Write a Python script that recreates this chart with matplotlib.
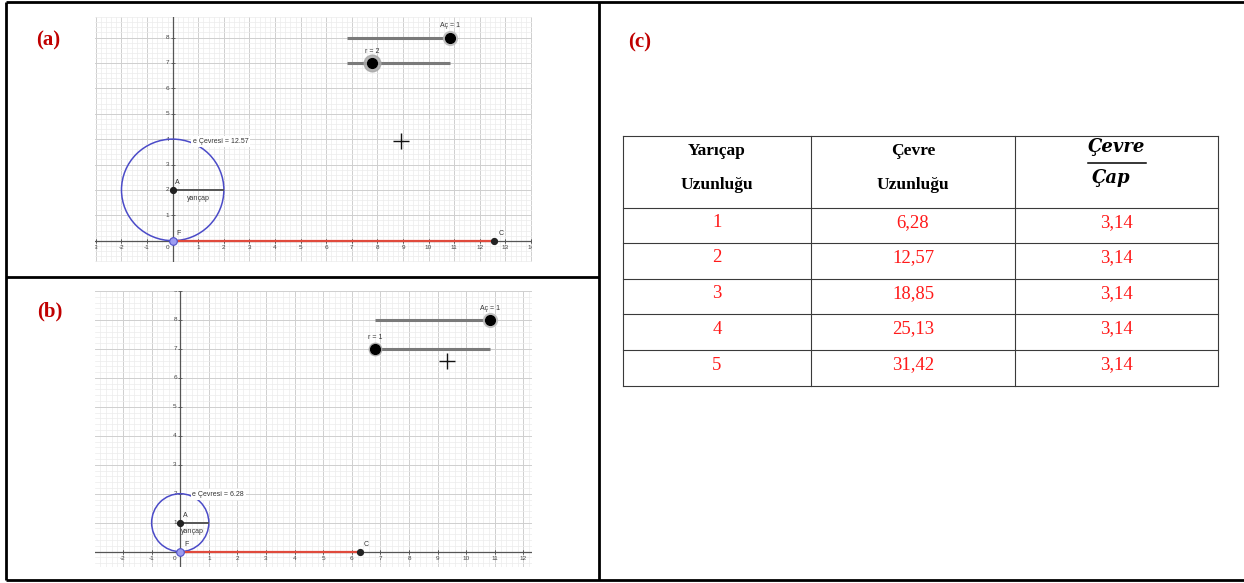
import numpy as np
import matplotlib
matplotlib.use("Agg")
import matplotlib.pyplot as plt
from matplotlib.patches import Circle

# ---------------- data ----------------
radius = [1, 2, 3, 4, 5]
circumference = [6.28, 12.57, 18.85, 25.13, 31.42]
ratio = [3.14, 3.14, 3.14, 3.14, 3.14]
header_col1 = ["Yarıçap", "Uzunluğu"]
header_col2 = ["Çevre", "Uzunluğu"]
header_frac = ["Çevre", "Çap"]

panel_a_r = 2
panel_a_circ = 12.57
panel_b_r = 1
panel_b_circ = 6.28
slider_r_min, slider_r_max = 1, 5
slider_ac_value = 1

W, H = 1244, 583
fig = plt.figure(figsize=(W / 100, H / 100), dpi=100)

bg = fig.add_axes([0, 0, 1, 1])
bg.set_xlim(0, W)
bg.set_ylim(H, 0)
bg.axis("off")


def px_axes(x0, y0, x1, y1):
    return fig.add_axes([x0 / W, 1 - y1 / H, (x1 - x0) / W, (y1 - y0) / H], zorder=5)


# ------------- frame -------------
frame_kw = dict(color="black", lw=2.0, solid_capstyle="butt")
bg.plot([6, W], [2, 2], **frame_kw)
bg.plot([6, W], [580, 580], **frame_kw)
bg.plot([6, 6], [2, 580], **frame_kw)
bg.plot([599, 599], [2, 580], **frame_kw)
bg.plot([6, 599], [277, 277], **frame_kw)

lab_kw = dict(fontsize=15, fontweight="bold", color="#c00000",
              family="Liberation Serif", ha="center", va="center")
bg.text(48, 40, "(a)", **lab_kw)
bg.text(50, 311, "(b)", **lab_kw)
bg.text(640, 42, "(c)", **lab_kw)


# ------------- geogebra panels -------------
def geo_panel(box, xlim, ylim, r, circ, cross, label_pos_r):
    ax = px_axes(*box)
    ax.set_xlim(*xlim)
    ax.set_ylim(*ylim)
    ax.set_xticks(np.arange(np.ceil(xlim[0]), xlim[1] + 0.01, 1))
    ax.set_yticks(np.arange(np.ceil(ylim[0]), ylim[1] + 0.01, 1))
    ax.set_xticks(np.arange(np.ceil(xlim[0] * 5) / 5, xlim[1], 0.2), minor=True)
    ax.set_yticks(np.arange(np.ceil(ylim[0] * 5) / 5, ylim[1], 0.2), minor=True)
    ax.grid(which="major", color="#cfcfcf", lw=0.7)
    ax.grid(which="minor", color="#ececec", lw=0.5)
    ax.set_axisbelow(True)
    ax.tick_params(which="both", length=0, labelbottom=False, labelleft=False)
    for s in ax.spines.values():
        s.set_visible(False)
    ax.axhline(0, color="#555555", lw=0.9, zorder=2)
    ax.axvline(0, color="#555555", lw=0.9, zorder=2)

    tk = dict(fontsize=4.6, color="#444444", family="Liberation Sans", clip_on=True)
    for xv in range(int(np.floor(xlim[0])), int(np.ceil(xlim[1])) + 1):
        if xv == 0:
            continue
        ax.annotate(f"{xv}", (xv, 0), xytext=(0, -3), textcoords="offset points",
                    ha="center", va="top", **tk)
        ax.plot([xv, xv], [0, 0], marker="|", ms=2.5, color="#555555", mew=0.6)
    for yv in range(1, int(np.floor(ylim[1])) + 1):
        ax.annotate(f"{yv}", (0, yv), xytext=(-2.5, 0), textcoords="offset points",
                    ha="right", va="center", **tk)
        ax.plot([0], [yv], marker="_", ms=2.5, color="#555555", mew=0.6)
    ax.annotate("0", (0, 0), xytext=(-2.5, -3), textcoords="offset points",
                ha="right", va="top", **tk)

    txt = dict(fontsize=5, color="#333333", family="Liberation Sans")

    # circle
    ax.add_patch(Circle((0, r), r, fill=False, ec="#4b4bc8", lw=1.1, zorder=3))
    ax.annotate(f"e Çevresi = {circ:.2f}", label_pos_r, xytext=(0, 0),
                textcoords="offset points", ha="left", va="center", zorder=4,
                bbox=dict(boxstyle="square,pad=0.25", fc="white", ec="none"), **txt)
    # radius segment
    ax.plot([0, r], [r, r], color="#555555", lw=1.4, zorder=4, solid_capstyle="butt")
    ax.annotate("yarıçap", (r / 2 if r > 1 else 0.02, r), xytext=(0 if r > 1 else 0, -6),
                textcoords="offset points", ha="center" if r > 1 else "left",
                va="center", zorder=5, **txt)
    # red unrolled segment
    ax.plot([0, circ], [0, 0], color="#e04a3c", lw=1.6, zorder=4, solid_capstyle="butt")
    ax.plot([circ], [0], "o", ms=4.2, color="#222222", zorder=6)
    ax.annotate("C", (circ, 0), xytext=(3, 4), textcoords="offset points", **txt)
    # points
    ax.plot([0], [r], "o", ms=4.2, color="#222222", zorder=6)
    ax.annotate("A", (0, r), xytext=(2, 4), textcoords="offset points", **txt)
    ax.plot([0], [0], "o", ms=5.5, mfc="#9c9cf0", mec="#5050c8", mew=0.8, zorder=7)
    ax.annotate("F", (0, 0), xytext=(3, 4), textcoords="offset points", **txt)

    # sliders
    x0s, x1s = 6.8, 10.82
    ax.plot([x0s, x1s], [8, 8], color="#7a7a7a", lw=2.2, zorder=4, solid_capstyle="butt")
    ac_x = x0s + (x1s - x0s) * slider_ac_value
    ax.plot([ac_x], [8], "o", ms=10, color="#bbbbbb", alpha=0.8, zorder=5)
    ax.plot([ac_x], [8], "o", ms=7, color="black", zorder=6)
    ax.annotate(f"Aç = {slider_ac_value}", (ac_x, 8), xytext=(0, 6), textcoords="offset points",
                ha="center", va="bottom", **txt)
    ax.plot([x0s, x1s], [7, 7], color="#7a7a7a", lw=2.2, zorder=4, solid_capstyle="butt")
    r_x = x0s + (x1s - x0s) * (r - slider_r_min) / (slider_r_max - slider_r_min)
    ax.plot([r_x], [7], "o", ms=12 if r > 1 else 9, color="#a8a8a8", alpha=0.85, zorder=5)
    ax.plot([r_x], [7], "o", ms=7, color="black", zorder=6)
    ax.annotate(f"r = {r}", (r_x, 7), xytext=(0, 6), textcoords="offset points",
                ha="center", va="bottom", **txt)
    # cursor
    ax.plot([cross[0]], [cross[1]], marker="+", ms=11, mew=1.0, color="#111111", zorder=6)
    return ax


geo_panel((95, 17, 532, 262), (-3.035, 14.04), (-0.84, 8.81),
          panel_a_r, panel_a_circ, (8.92, 3.93), (0.78, 3.9))
geo_panel((95, 291, 532, 567), (-2.98, 12.3), (-0.53, 9.0),
          panel_b_r, panel_b_circ, (9.34, 6.58), (0.42, 1.98))

# ------------- table -------------
col_x = [623, 811, 1015, 1218]
row_y = [136, 208, 243, 279, 314, 350, 386]
lc = "#3a3a3a"
for x in col_x:
    bg.plot([x, x], [row_y[0], row_y[-1]], color=lc, lw=0.8)
for y in row_y:
    bg.plot([col_x[0], col_x[-1]], [y, y], color=lc, lw=0.8)

centers = [(col_x[i] + col_x[i + 1]) / 2 for i in range(3)]
hk = dict(fontsize=12.5, fontweight="bold", family="Liberation Serif",
          color="black", ha="center", va="center")
bg.text(centers[0], 151, header_col1[0], **hk)
bg.text(centers[0], 185, header_col1[1], **hk)
bg.text(centers[1], 151, header_col2[0], **hk)
bg.text(centers[1], 185, header_col2[1], **hk)
fk = dict(fontsize=13, fontweight="bold", style="italic", family="DejaVu Serif",
          color="black", ha="center", va="center")
bg.text(centers[2], 147, header_frac[0], **fk)
bg.plot([centers[2] - 29, centers[2] + 29], [163, 163], color="black", lw=1.1)
bg.text(centers[2] - 5, 178, header_frac[1], **fk)

dk = dict(fontsize=13.5, family="Liberation Serif", color="#ff1a1a",
          ha="center", va="center")
for i in range(len(radius)):
    yc = (row_y[i + 1] + row_y[i + 2]) / 2 - 3
    bg.text(centers[0], yc, f"{radius[i]}", **dk)
    bg.text(centers[1], yc, f"{circumference[i]:.2f}".replace(".", ","), **dk)
    bg.text(centers[2], yc, f"{ratio[i]:.2f}".replace(".", ","), **dk)

fig.savefig("out.png", dpi=100)
